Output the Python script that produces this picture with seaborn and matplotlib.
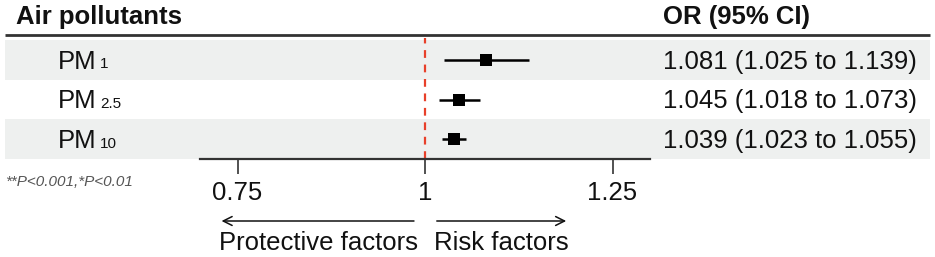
import matplotlib
matplotlib.use("Agg")
import matplotlib.pyplot as plt
import matplotlib.transforms as mtransforms
import seaborn as sns
import pandas as pd

# ---- data ----
pollutants = ["PM", "PM", "PM"]
subscripts = ["1", "2.5", "10"]
odds_ratio = [1.081, 1.045, 1.039]
ci_low = [1.025, 1.018, 1.023]
ci_high = [1.139, 1.073, 1.055]
or_labels = ["1.081 (1.025 to 1.139)", "1.045 (1.018 to 1.073)", "1.039 (1.023 to 1.055)"]
tick_values = [0.75, 1.0, 1.25]
tick_labels = ["0.75", "1", "1.25"]

df = pd.DataFrame({"row": range(len(odds_ratio)), "OR": odds_ratio,
                   "lo": ci_low, "hi": ci_high})

sns.set_theme(style="white")
plt.rcParams["font.family"] = ["Liberation Sans", "DejaVu Sans"]

FS = 18.5
W, H = 935, 257
fig = plt.figure(figsize=(W / 100, H / 100), dpi=100)

# background axes in pixel coordinates for layout elements
bg = fig.add_axes([0, 0, 1, 1])
bg.set_xlim(0, W)
bg.set_ylim(H, 0)
bg.axis("off")

# forest axes
top_px, bot_px = 40, 159
ax = fig.add_axes([200 / W, 1 - bot_px / H, 450 / W, (bot_px - top_px) / H])
ax.set_facecolor("none")
n = len(odds_ratio)
ax.set_ylim(n - 0.5, -0.5)
ax.set_xlim(0.7, 1.3)

# row bands (full width)
band = mtransforms.blended_transform_factory(fig.transFigure, ax.transData)
for i in range(n):
    if i % 2 == 0:
        bg.add_patch(plt.Rectangle((5 / W, i - 0.5), (930 - 5) / W, 1.0,
                                   transform=band, facecolor="#eef0ef",
                                   edgecolor="none", zorder=0))

# header line
bg.plot([5, 930], [35, 35], color="#333333", lw=2, solid_capstyle="butt")

# reference line
ax.axvline(1.0, color="#e8402a", lw=1.6, ls=(0, (3.5, 3)), zorder=1,
           ymax=1.02, clip_on=False)

# CIs and points
ax.hlines(df["row"], df["lo"], df["hi"], color="black", lw=1.8, zorder=2)
sns.scatterplot(data=df, x="OR", y="row", marker="s", s=75, color="black",
                edgecolor="black", linewidth=0, ax=ax, zorder=3, legend=False)

# axis styling
for s in ["top", "left", "right"]:
    ax.spines[s].set_visible(False)
ax.spines["bottom"].set_color("#333333")
ax.spines["bottom"].set_linewidth(1.6)
ax.set_yticks([])
ax.set_xticks(tick_values)
ax.set_xticklabels(tick_labels, fontsize=FS)
ax.tick_params(axis="x", direction="out", length=11, width=1.2,
               color="#333333", pad=5, bottom=True, labelcolor="#111111")
ax.set_xlabel("")
ax.set_ylabel("")

# headers
bg.text(16, 17, "Air pollutants", fontsize=FS, fontweight="bold",
        va="center", ha="left", color="#111111")
bg.text(663, 17, "OR (95% CI)", fontsize=FS, fontweight="bold",
        va="center", ha="left", color="#111111")

# row labels and OR text
SUB = 11
for i in range(n):
    t = ax.text(58 / W, i + 0.22, pollutants[i], transform=band, fontsize=FS,
                ha="left", va="baseline", color="#111111")
    ax.annotate(subscripts[i], xy=(1, 0), xycoords=t,
                xytext=(2.5, 0.212 * (FS - SUB)),
                textcoords="offset points", fontsize=SUB, ha="left",
                va="bottom", color="#111111")
    ax.text(663 / W, i + 0.22, or_labels[i], transform=band, fontsize=FS,
            ha="left", va="baseline", color="#111111")

# footnote
bg.text(5, 182, "**P<0.001,*P<0.01", fontsize=11, style="italic",
        color="#555555", va="center", ha="left")

# direction arrows and labels
arr = mtransforms.blended_transform_factory(ax.transData, bg.transData)
ax.annotate("", xy=(0.725, 221), xytext=(0.989, 221), xycoords=arr,
            textcoords=arr,
            arrowprops=dict(arrowstyle="->", color="#111111", lw=1.1,
                            mutation_scale=16), annotation_clip=False)
ax.annotate("", xy=(1.192, 221), xytext=(1.012, 221), xycoords=arr,
            textcoords=arr,
            arrowprops=dict(arrowstyle="->", color="#111111", lw=1.1,
                            mutation_scale=16), annotation_clip=False)
ax.text(0.858, 243, "Protective factors", transform=arr, fontsize=FS,
        ha="center", va="center", color="#111111")
ax.text(1.102, 243, "Risk factors", transform=arr, fontsize=FS,
        ha="center", va="center", color="#111111")

fig.savefig("out.png", dpi=100)
